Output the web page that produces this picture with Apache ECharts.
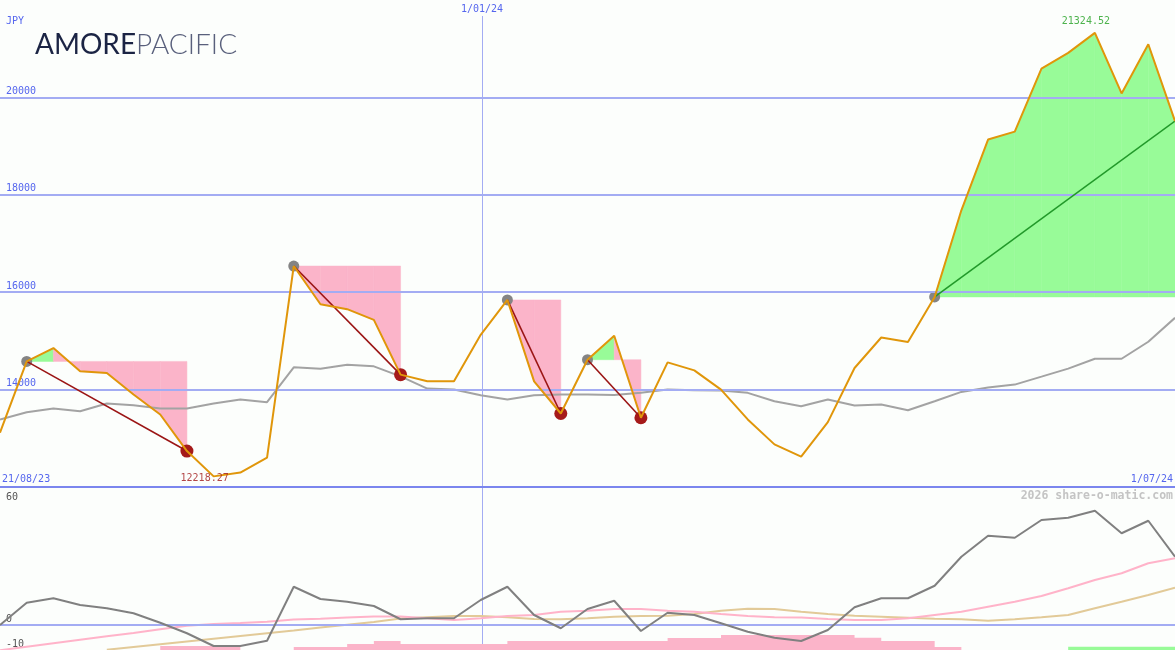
<!DOCTYPE html>
<html><head><meta charset="utf-8">
<script src="https://cdn.jsdelivr.net/npm/echarts@6/dist/echarts.min.js"></script>
<style>html,body{margin:0;padding:0;background:#fcfefc}#c{width:1175px;height:650px}</style>
</head><body><div id="c"></div>
<script>
// ---- data (weekly points, index 0..44) ----
const price = [13115,14579,14853,14375,14342,13898,13489,12738,12218.27,12297,12603,16537,15753,15651,15432,14307,14170,14170,15125,15841,14170,13509,14614,15105,13422,14559,14395,14000,13387,12875,12624,13332,14444,15070,14976,15903,17682,19134,19298,20593,20914,21324.52,20081,21092,19513];
const avg = [13387,13536,13612,13557,13714,13679,13612,13612,13714,13796,13741,14457,14430,14512,14477,14272,14021,14000,13884,13796,13884,13898,13898,13888,13933,14000,13986,13980,13933,13761,13659,13796,13673,13694,13577,13761,13953,14041,14103,14266,14430,14634,14634,14982,15473];
const oscMain = [0,8.9,10.7,8,6.7,4.7,0.9,-3.3,-8.4,-8.4,-6.3,15.3,10.4,9.3,7.6,2.3,2.7,2.7,10,15.3,4,-1.3,6.4,9.7,-2.4,4.9,4,0.7,-2.7,-5.1,-6.4,-2,7.1,10.7,10.7,15.7,27.3,35.7,34.9,42,42.9,45.7,36.7,41.7,27.3];
const oscFast = [-10.1,-8.7,-7.3,-5.9,-4.5,-3.2,-1.7,-0.3,0.4,0.8,1.3,2.2,2.5,3,3.4,3.4,2.7,2,2.7,3.6,4,5.3,5.7,6.4,6.4,5.7,5.3,4.4,3.6,3.1,3,2.4,2,2,2.7,4,5.3,7.3,9.3,11.6,14.7,18,20.7,24.7,26.7];
const oscSlow = [null,null,null,null,-9.9,-8.8,-7.7,-6.6,-5.5,-4.4,-3.3,-2.2,-1,0.1,1.2,2.6,3.1,3.6,3.6,3.1,2.4,2.3,2.7,3.3,3.6,3.7,4.4,5.7,6.5,6.4,5.3,4.4,3.7,3.3,2.9,2.5,2.3,1.7,2.3,3.1,4,6.7,9.3,12,14.9];
const histDown = [0,0,0,0,0,0,1.6,1.6,1.6,0,0,1.2,1.2,2.4,3.6,2.4,2.4,2.4,2.4,3.6,3.6,3.6,3.6,3.6,3.6,4.8,4.8,6,6,6,6,6,4.9,3.6,3.6,1.2,0,0,0,0,0,0,0,0,0];
const histUp = [0,0,0,0,0,0,0,0,0,0,0,0,0,0,0,0,0,0,0,0,0,0,0,0,0,0,0,0,0,0,0,0,0,0,0,0,0,0,0,0,1.3,1.3,1.3,1.3,1.3];
const swingStart = [1,11,19,22,35];
const swingEnd = [7,15,21,24,44];
const priceTicks = [14000,16000,18000,20000];
const oscTicks = [0,-10];
const oscTopLabel = '60';
const edgeDates = ['21/08/23','1/07/24'];
const yearMark = {index: 18.07, label: '1/01/24'};
const currency = 'JPY';
const brand = ['AMORE','PACIFIC'];
const watermark = '2026 share-o-matic.com';

// ---- styles ----
const PINK = '#fbb4c9', GREEN = '#98fb98', BLUE_T = '#5566ee', GRID_C = '#a3acf3';
const MONO = '"DejaVu Sans Mono", monospace';
const LAST = price.length - 1;
const pts = arr => arr.map((v, i) => [i, v]);

const fillData = [];
swingStart.forEach((s, k) => {
  const e = swingEnd[k], lvl = price[s];
  for (let i = s; i < e; i++) fillData.push([i, lvl, price[i], price[i + 1], price[i + 1] > lvl ? 1 : 0]);
});

const swingLines = swingStart.map((s, k) => {
  const e = swingEnd[k];
  return {type: 'line', xAxisIndex: 0, yAxisIndex: 0, data: [[s, price[s]], [e, price[e]]], symbol: 'none', z: 6,
    lineStyle: {color: price[e] < price[s] ? '#9b1515' : '#22992a', width: 1.6}, silent: true};
});
const startDots = swingStart.map(s => [s, price[s]]);
const endDots = swingEnd.filter((e, k) => price[e] < price[swingStart[k]]).map(e => [e, price[e]]);

let iMax = 0, iMin = 0;
price.forEach((v, i) => { if (v > price[iMax]) iMax = i; if (v < price[iMin]) iMin = i; });

const chart = echarts.init(document.getElementById('c'));
chart.setOption({
  backgroundColor: '#fcfefc',
  animation: false,
  grid: [
    {left: 0, right: 0, top: -2, height: 489},
    {left: 0, right: 0, top: 490, height: 160}
  ],
  xAxis: [
    {type: 'value', gridIndex: 0, min: 0, max: LAST, axisLine: {show: true, onZero: false, lineStyle: {color: '#7b86ee', width: 2}},
      axisTick: {show: false}, axisLabel: {show: false}, splitLine: {show: false}},
    {type: 'value', gridIndex: 1, min: 0, max: LAST, show: false}
  ],
  yAxis: [
    {type: 'value', gridIndex: 0, min: 12000, max: 22000, interval: 2000, axisLine: {show: false}, axisTick: {show: false},
      splitLine: {show: false},
      axisLabel: {inside: true, margin: 6, verticalAlign: 'bottom', padding: [0, 0, 1, 0], color: BLUE_T, fontFamily: MONO, fontSize: 10,
        formatter: v => priceTicks.includes(v) ? String(v) : ''}},
    {type: 'value', gridIndex: 1, min: -10, max: 54, interval: 10, axisLine: {show: false}, axisTick: {show: false}, splitLine: {show: false},
      axisLabel: {inside: true, margin: 6, verticalAlign: 'bottom', padding: [0, 0, 1, 0], color: '#555', fontFamily: MONO, fontSize: 10,
        showMaxLabel: false, formatter: v => oscTicks.includes(v) ? String(v) : ''}},
    {type: 'value', gridIndex: 1, min: 0, max: 64, show: false}
  ],
  series: [
    {type: 'custom', xAxisIndex: 0, yAxisIndex: 0, data: fillData, encode: {x: 0, y: 1}, z: 1, silent: true,
      renderItem: (params, api) => {
        const i = api.value(0), lvl = api.value(1);
        const a = api.coord([i, lvl]), b = api.coord([i, api.value(2)]), c = api.coord([i + 1, api.value(3)]), d = api.coord([i + 1, lvl]);
        return {type: 'polygon', shape: {points: [a, b, c, d]}, style: {fill: api.value(4) ? GREEN : PINK, stroke: api.value(4) ? GREEN : PINK, lineWidth: 0.5}};
      }},
    {type: 'line', xAxisIndex: 0, yAxisIndex: 0, data: pts(avg), symbol: 'none', z: 3, lineStyle: {color: '#a3a3a3', width: 2},
      markLine: {silent: true, symbol: 'none', label: {show: false}, lineStyle: {color: GRID_C, width: 2, type: 'solid'},
        data: priceTicks.map(v => ({yAxis: v}))}},
    {type: 'scatter', xAxisIndex: 0, yAxisIndex: 0, data: startDots, symbolSize: 11, itemStyle: {color: '#848484', opacity: 1}, z: 4},
    {type: 'scatter', xAxisIndex: 0, yAxisIndex: 0, data: endDots, symbolSize: 13, itemStyle: {color: '#a51a1a', opacity: 1}, z: 5},
    ...swingLines,
    {type: 'line', xAxisIndex: 0, yAxisIndex: 0, data: pts(price), symbol: 'none', z: 8, lineStyle: {color: '#e0960a', width: 2}},
    {type: 'scatter', xAxisIndex: 0, yAxisIndex: 0, z: 9, symbolSize: 1, itemStyle: {color: 'rgba(0,0,0,0)'},
      data: [
        {value: [iMax, price[iMax]], label: {show: true, position: 'inside', offset: [-9, -11], color: '#22a022', fontFamily: MONO, fontSize: 10, formatter: () => price[iMax].toFixed(2)}},
        {value: [iMin, price[iMin]], label: {show: true, position: 'inside', offset: [-9, 2.5], color: '#a01818', fontFamily: MONO, fontSize: 10, formatter: () => price[iMin].toFixed(2)}}
      ]},
    // lower panel
    {type: 'line', xAxisIndex: 1, yAxisIndex: 2, data: pts(histDown), step: 'end', symbol: 'none', lineStyle: {width: 0}, areaStyle: {color: PINK, opacity: 1, origin: 'start'}, z: 1},
    {type: 'line', xAxisIndex: 1, yAxisIndex: 2, data: pts(histUp), step: 'end', symbol: 'none', lineStyle: {width: 0}, areaStyle: {color: GREEN, opacity: 1, origin: 'start'}, z: 1},
    {type: 'line', xAxisIndex: 1, yAxisIndex: 1, data: pts(oscSlow), symbol: 'none', z: 3, lineStyle: {color: '#e2ca98', width: 2}},
    {type: 'line', xAxisIndex: 1, yAxisIndex: 1, data: pts(oscFast), symbol: 'none', z: 4, lineStyle: {color: '#ffb3c9', width: 2}},
    {type: 'line', xAxisIndex: 1, yAxisIndex: 1, data: pts(oscMain), symbol: 'none', z: 5, lineStyle: {color: '#808080', width: 2},
      markLine: {silent: true, symbol: 'none', label: {show: false}, lineStyle: {color: GRID_C, width: 2, type: 'solid'}, data: [{yAxis: 0}]}}
  ]
});

const xMark = chart.convertToPixel({xAxisIndex: 0}, yearMark.index);
const xL = chart.convertToPixel({xAxisIndex: 0}, 0);
const xR = chart.convertToPixel({xAxisIndex: 0}, LAST);
chart.setOption({
  graphic: [
    {type: 'line', shape: {x1: Math.floor(xMark) + 0.5, y1: 16, x2: Math.floor(xMark) + 0.5, y2: 650}, style: {stroke: GRID_C, lineWidth: 1}, z: 0, silent: true},
    {type: 'text', x: Math.floor(xMark), y: 9, style: {text: yearMark.label, fill: BLUE_T, font: '10px ' + MONO, align: 'center', verticalAlign: 'middle'}},
    {type: 'text', x: xL + 2, y: 479, style: {text: edgeDates[0], fill: BLUE_T, font: '10px ' + MONO, align: 'left', verticalAlign: 'middle'}},
    {type: 'text', x: xR - 2, y: 479, style: {text: edgeDates[1], fill: BLUE_T, font: '10px ' + MONO, align: 'right', verticalAlign: 'middle'}},
    {type: 'text', x: 6, y: 21, style: {text: currency, fill: BLUE_T, font: '10px ' + MONO, verticalAlign: 'middle'}},
    {type: 'text', x: 6, y: 497, style: {text: oscTopLabel, fill: '#555', font: '10px ' + MONO, verticalAlign: 'middle'}},
    {type: 'text', x: 1173, y: 496, style: {text: watermark, fill: '#c4c4c4', font: 'bold 11.5px ' + MONO, align: 'right', verticalAlign: 'middle'}},
    {type: 'text', x: 35, y: 45, style: {text: '{a|' + brand[0] + '}{b|' + brand[1] + '}', verticalAlign: 'middle',
      rich: {a: {fontFamily: 'Lato', fontSize: 28, fontWeight: 400, fill: '#1b2444', color: '#1b2444'},
             b: {fontFamily: 'Lato', fontSize: 28, fontWeight: 300, fill: '#59607c', color: '#59607c'}}}}
  ]
});
</script></body></html>
